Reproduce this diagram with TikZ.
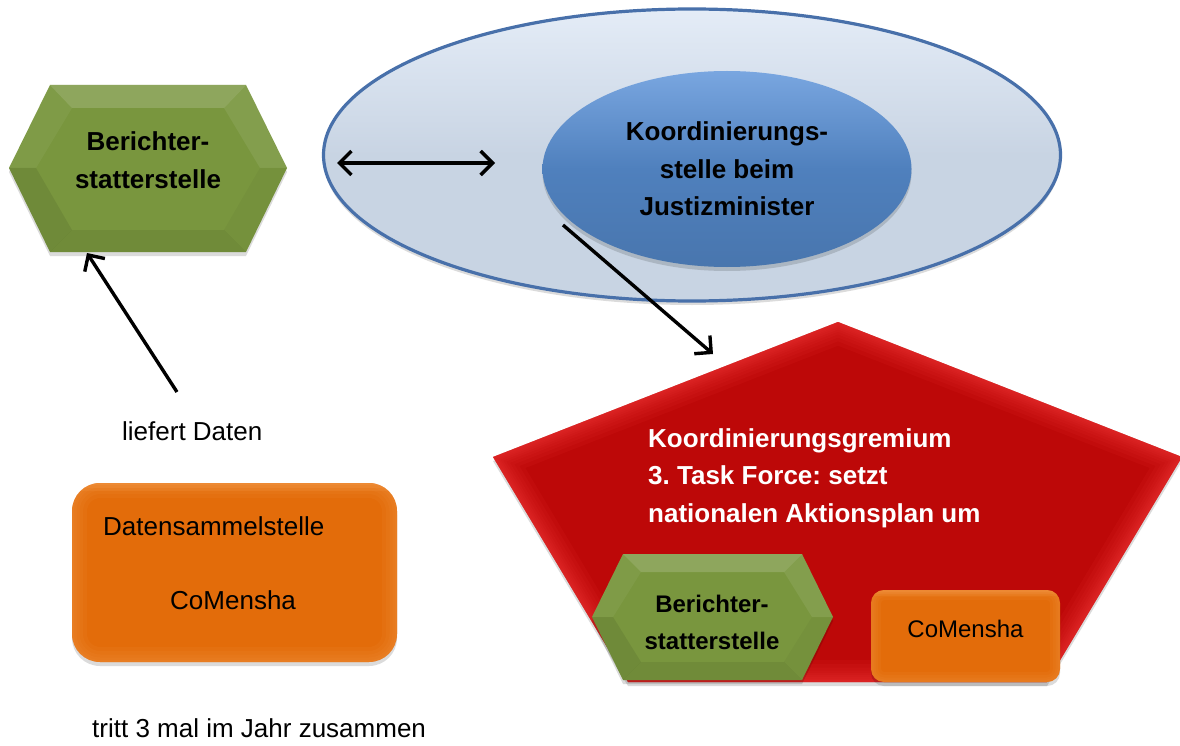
\documentclass[tikz,border=0pt]{standalone}
\usepackage{fontspec}
\setmainfont{Liberation Sans}
\usetikzlibrary{shapes.geometric,arrows.meta,shadows}
\frenchspacing

\definecolor{grn}{HTML}{79963E}
\definecolor{org}{HTML}{E36C0A}
\definecolor{orgL}{HTML}{FAA557}
\definecolor{redB}{HTML}{BD0808}
\definecolor{redL}{HTML}{F53C3C}
\definecolor{ellO}{HTML}{C8D4E3}
\definecolor{ellOL}{HTML}{E4ECF7}
\definecolor{ellBd}{HTML}{4870AA}
\definecolor{ellI}{HTML}{4F80BD}
\definecolor{ellIL}{HTML}{79A6E0}

\newcommand{\hexfacets}[1]{%
  \fill[white,opacity=.16] (#1TL)--(#1TR)--(#1iTR)--(#1iTL)--cycle;
  \fill[white,opacity=.05] (#1L)--(#1TL)--(#1iTL)--(#1iL)--cycle;
  \fill[black,opacity=.08] (#1L)--(#1iL)--(#1iBL)--(#1BL)--cycle;
  \fill[white,opacity=.08] (#1TR)--(#1R)--(#1iR)--(#1iTR)--cycle;
  \fill[black,opacity=.03] (#1R)--(#1BR)--(#1iBR)--(#1iR)--cycle;
  \fill[black,opacity=.07] (#1BL)--(#1BR)--(#1iBR)--(#1iBL)--cycle;
}

\begin{document}
\begin{tikzpicture}[x=1pt,y=-1pt,
  arr/.style={line width=3.4pt,-{Straight Barb[length=12pt,width=24pt]}},
  darr/.style={line width=3.4pt,{Straight Barb[length=12pt,width=24pt]}-{Straight Barb[length=12pt,width=24pt]}},
  shad/.style={drop shadow={shadow xshift=0pt,shadow yshift=-4pt,opacity=.14,fill=black}},
  bigr/.style={font=\fontsize{26}{37.5}\selectfont},
  bigb/.style={font=\bfseries\fontsize{26}{37.5}\selectfont},
  smallb/.style={font=\bfseries\fontsize{24}{37}\selectfont},
  smallr/.style={font=\fontsize{24}{30}\selectfont},
  txt/.style={inner sep=0pt,align=center},
  ltxt/.style={inner sep=0pt,anchor=base west},
]
\useasboundingbox (0,0) rectangle (1180,746);
\fill[white] (0,0) rectangle (1180,746);

% ---------- outer ellipse and inner ellipse ----------
\node[ellipse,draw=ellBd,line width=3.2pt,top color=ellOL,bottom color=ellO,middle color=ellO,
      minimum width=737pt,minimum height=292pt,shad] (outer) at (692,155) {};
\node[ellipse,top color=ellIL,bottom color=ellI!92!black,middle color=ellI,
      minimum width=369pt,minimum height=196pt,inner sep=0pt,shad,
      bigb,align=center] (koord) at (727,169) {Koordinierungs-\\stelle beim\\Justizminister};

% ---------- pentagon ----------
\coordinate (pA) at (838,322);
\coordinate (pR) at (1182,457);
\coordinate (pBR) at (1047,682);
\coordinate (pBL) at (628,682);
\coordinate (pL) at (493,457);
\fill[redB,shad] (pA)--(pR)--(pBR)--(pBL)--(pL)--cycle;
\begin{scope}
  \clip (pA)--(pR)--(pBR)--(pBL)--(pL)--cycle;
  \foreach \w in {44,36,29,23,18,14,10,7,4}
    \draw[redL,line width=\w pt,opacity=.09,line join=round] (pA)--(pR)--(pBR)--(pBL)--(pL)--cycle;
\end{scope}
\node[bigb,text=white,align=left,anchor=north west,inner sep=0pt] (grem) at (648,428)
  {Koordinierungsgremium\\3. Task Force: setzt\\nationalen Aktionsplan um};

% ---------- small hexagon inside pentagon ----------
\coordinate (bL) at (592,617);  \coordinate (bTL) at (623,554);
\coordinate (bTR) at (802,554); \coordinate (bR) at (833,617);
\coordinate (bBR) at (802,680); \coordinate (bBL) at (623,680);
\coordinate (biL) at (613,617);  \coordinate (biTL) at (641,572);
\coordinate (biTR) at (784,572); \coordinate (biR) at (812,617);
\coordinate (biBR) at (784,662); \coordinate (biBL) at (641,662);
\fill[grn,shad] (bL)--(bTL)--(bTR)--(bR)--(bBR)--(bBL)--cycle;
\hexfacets{b}
\node[smallb,txt] (bs2) at (712,622) {Berichter-\\statterstelle};

% ---------- small CoMensha box ----------
\node[rounded corners=13pt,fill=org,minimum width=189pt,minimum height=92pt,shad] (cm2) at (965.5,636) {};
\begin{scope}
  \clip[rounded corners=13pt] (871,590) rectangle (1060,682);
  \foreach \w in {20,14,9,5}
    \draw[orgL,line width=\w pt,opacity=.08,rounded corners=13pt] (871,590) rectangle (1060,682);
  \foreach \w in {12,7,3}
    \draw[orgL,line width=\w pt,opacity=.15] (871,590) -- (1060,590);
\end{scope}
\node[smallr,inner sep=0pt,anchor=base] (cm2t) at (965.5,637) {CoMensha};

% ---------- left hexagon ----------
\coordinate (aL) at (9,168);   \coordinate (aTL) at (50,85);
\coordinate (aTR) at (246,85); \coordinate (aR) at (287,168);
\coordinate (aBR) at (246,252);\coordinate (aBL) at (50,252);
\coordinate (aiL) at (36,168);   \coordinate (aiTL) at (72,108);
\coordinate (aiTR) at (224,108); \coordinate (aiR) at (260,168);
\coordinate (aiBR) at (224,230); \coordinate (aiBL) at (72,230);
\fill[grn,shad] (aL)--(aTL)--(aTR)--(aR)--(aBR)--(aBL)--cycle;
\hexfacets{a}
\node[bigb,txt,font=\bfseries\fontsize{26}{38}\selectfont] (bs1) at (148,160) {Berichter-\\statterstelle};

% ---------- left orange box ----------
\node[rounded corners=28pt,fill=org,minimum width=325pt,minimum height=179pt,shad] (dsb) at (234.5,572.5) {};
\begin{scope}
  \clip[rounded corners=28pt] (72,483) rectangle (397,662);
  \foreach \w in {30,22,15,9,4}
    \draw[orgL,line width=\w pt,opacity=.08,rounded corners=28pt] (72,483) rectangle (397,662);
  \foreach \w in {16,9,4}
    \draw[orgL,line width=\w pt,opacity=.14] (72,483) -- (397,483);
\end{scope}
\node[bigr,ltxt] (dst) at (103,535) {Datensammelstelle};
\node[bigr,ltxt] (cm1) at (170,609) {CoMensha};

% ---------- free texts ----------
\node[bigr,ltxt] (lief) at (122,440) {liefert Daten};
\node[bigr,ltxt] (tritt) at (92,737) {tritt 3 mal im Jahr zusammen};

% ---------- arrows ----------
\coordinate (d1) at (337,163);
\coordinate (d2) at (495,163);
\coordinate (k1) at (563,225);
\coordinate (k2) at (713,354);
\coordinate (l1) at (177,392);
\coordinate (l2) at (87,253);
\draw[darr] (d1) -- (d2);
\draw[arr] (k1) -- (k2);
\draw[arr] (l1) -- (l2);
\end{tikzpicture}
\end{document}
